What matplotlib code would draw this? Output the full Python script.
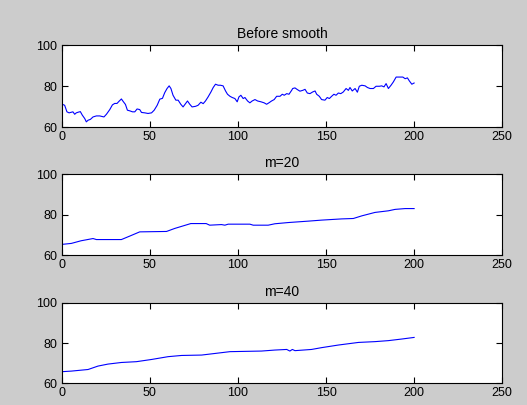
"""Raw series and two moving-average smoothings, MATLAB-style panels."""

import matplotlib

matplotlib.use("Agg")
import matplotlib.pyplot as plt

# --- data ------------------------------------------------------------------
raw_x = [0.4, 1.7, 3.0, 4.2, 5.5, 6.4, 7.4, 8.3, 9.3, 10.6, 11.7, 13.1, 14.0,
         15.0, 16.3, 17.8, 19.7, 21.6, 24.0, 25.4, 27.3, 28.8, 30.1, 31.4,
         32.6, 33.9, 34.8, 36.2, 37.3, 38.6, 40.2, 41.5, 42.8, 44.3, 45.3,
         47.2, 49.0, 51.0, 52.5, 54.2, 55.7, 57.2, 58.5, 59.8, 61.0, 62.0,
         63.2, 64.8, 66.1, 67.6, 68.9, 70.3, 71.4, 72.7, 74.0, 76.0, 77.4,
         79.0, 80.3, 81.6, 83.1, 84.7, 86.0, 87.3, 88.8, 90.1, 91.6, 93.0,
         94.1, 95.5, 96.8, 98.3, 99.6, 100.6, 101.7, 103.0, 104.0, 105.5,
         106.8, 108.1, 109.7, 111.2, 113.1, 114.9, 116.3, 117.6, 119.1,
         120.6, 122.0, 123.9, 125.2, 126.3, 127.7, 129.0, 130.5, 131.1,
         132.4, 133.7, 135.2, 136.8, 138.1, 139.4, 140.9, 142.4, 143.8,
         144.7, 146.2, 147.5, 149.4, 150.7, 151.9, 153.2, 154.5, 155.7,
         157.0, 158.4, 159.8, 161.4, 162.7, 163.6, 164.9, 166.5, 167.8,
         168.9, 170.3, 172.2, 173.5, 175.0, 176.9, 178.4, 180.3, 181.6,
         182.9, 184.1, 185.4, 186.9, 188.2, 189.8, 191.6, 193.6, 194.9,
         196.2, 197.3, 198.7, 200.0]
raw_y = [71.2, 70.7, 67.5, 67.0, 67.3, 67.5, 66.3, 67.0, 67.3, 67.6, 65.9,
         64.2, 62.6, 63.4, 63.8, 65.0, 65.5, 65.5, 65.0, 66.3, 68.6, 70.9,
         71.6, 71.6, 72.7, 73.8, 72.7, 71.1, 68.3, 68.0, 67.5, 67.5, 68.9,
         68.6, 67.2, 67.0, 66.7, 67.0, 68.3, 70.7, 73.7, 74.1, 76.9, 78.9,
         80.2, 78.9, 75.6, 73.2, 73.2, 71.2, 69.9, 71.5, 72.8, 71.2, 69.9,
         70.2, 70.7, 72.2, 71.5, 72.8, 74.8, 77.2, 79.4, 81.0, 80.5, 80.5,
         80.2, 77.7, 76.1, 75.1, 74.5, 74.0, 72.4, 74.8, 75.6, 74.0, 74.5,
         72.8, 71.9, 72.8, 73.5, 72.8, 72.4, 71.9, 71.2, 71.9, 72.8, 73.5,
         75.1, 75.1, 76.1, 75.6, 76.4, 76.1, 78.0, 78.9, 79.2, 78.4, 77.6,
         78.0, 78.5, 76.7, 76.4, 77.2, 77.7, 76.1, 75.1, 73.5, 73.2, 74.5,
         74.0, 75.1, 76.1, 75.6, 76.7, 76.4, 77.2, 78.9, 78.0, 79.4, 77.7,
         78.9, 77.1, 80.0, 80.5, 80.2, 79.4, 78.9, 78.9, 80.0, 80.0, 80.2,
         79.7, 81.3, 78.9, 80.5, 82.1, 84.5, 84.5, 84.5, 83.7, 84.1, 82.6,
         81.0, 81.6]

m20_x = [0, 5.5, 11, 17.8, 19.7, 33.9, 38.6, 44.3, 59.5, 64.2, 73.3, 82, 84,
         90.7, 92.6, 94.5, 106.8, 108.7, 117.2, 121, 128.6, 140, 147.5, 158.9,
         165.5, 170.3, 177.8, 185.4, 189.2, 194.9, 200]
m20_y = [65.3, 65.8, 67.1, 68.2, 67.7, 67.7, 69.4, 71.5, 71.7, 73.2, 75.6,
         75.6, 74.8, 75.1, 74.8, 75.3, 75.3, 74.8, 74.8, 75.5, 76.1, 76.8,
         77.3, 77.9, 78.1, 79.4, 81.1, 81.9, 82.6, 83.0, 83.0]

m40_x = [0, 5.5, 15, 20.6, 26.3, 33.9, 42.4, 51, 60.4, 68, 79.4, 87, 95.5,
         113.4, 121, 127.7, 129.5, 130.9, 132.4, 141.8, 147.5, 157, 168.4,
         177.8, 185.4, 193, 200]
m40_y = [65.7, 66.0, 66.8, 68.5, 69.5, 70.3, 70.7, 71.8, 73.2, 73.8, 74.0,
         74.8, 75.7, 76.0, 76.5, 76.8, 76.0, 76.8, 76.2, 76.8, 77.7, 79.0,
         80.3, 80.7, 81.2, 82.0, 82.8]

titles = ["Before smooth", "m=20", "m=40"]
x_ticks = [0, 50, 100, 150, 200, 250]
y_ticks = [60, 80, 100]

# axes rectangles in figure fractions (left, bottom, width, height)
PANELS = [
    (0.117, 0.686, 0.836, 0.202),
    (0.117, 0.370, 0.836, 0.200),
    (0.117, 0.054, 0.836, 0.198),
]

plt.rcParams["font.family"] = ["Liberation Sans", "DejaVu Sans"]

fig = plt.figure(figsize=(5.27, 4.05), dpi=100, facecolor="#cccccc")

for rect, title, (xs, ys) in zip(
    PANELS, titles, [(raw_x, raw_y), (m20_x, m20_y), (m40_x, m40_y)]
):
    ax = fig.add_axes(rect)
    ax.plot(xs, ys, color="#0000ff", linewidth=0.8)
    ax.set_xlim(0, 250)
    ax.set_ylim(60, 100)
    ax.set_xticks(x_ticks)
    ax.set_yticks(y_ticks)
    ax.tick_params(direction="in", top=True, right=True, length=4,
                   width=0.8, labelsize=9, pad=3)
    for spine in ax.spines.values():
        spine.set_linewidth(0.8)
    ax.set_title(title, fontsize=10, pad=5)

fig.savefig("out.png", dpi=100, facecolor=fig.get_facecolor())
